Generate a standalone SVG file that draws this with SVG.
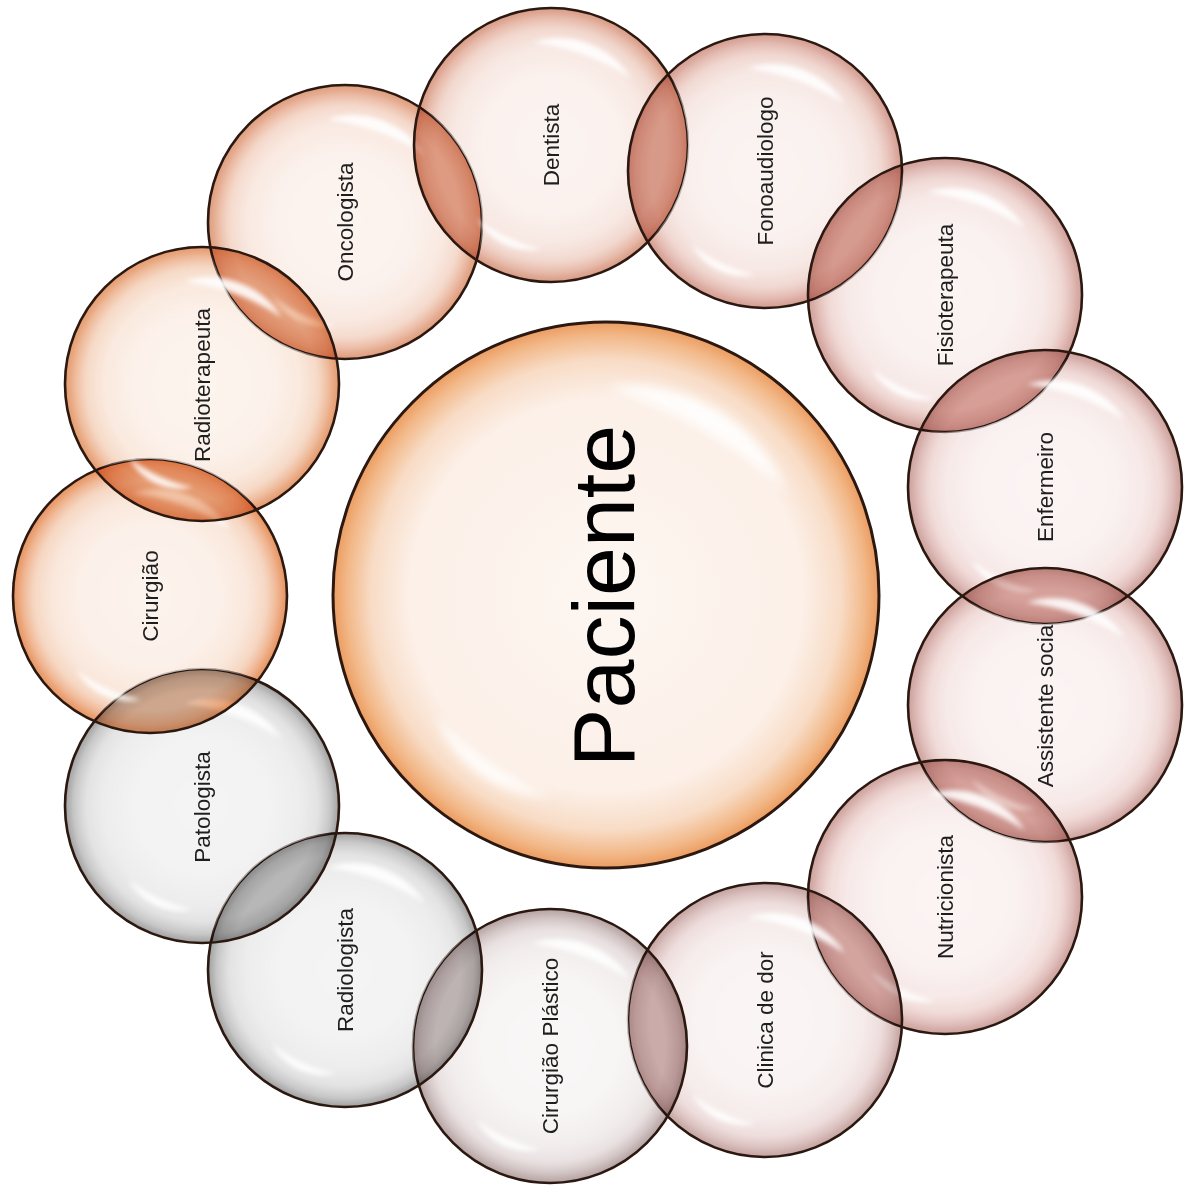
<svg xmlns="http://www.w3.org/2000/svg" xmlns:xlink="http://www.w3.org/1999/xlink" width="1184" height="1191" viewBox="0 0 1184 1191">
<style>
.lbl{font-family:"Liberation Sans",Arial,sans-serif;font-size:22.5px;fill:#1e1e1e;text-anchor:middle}
.big{font-size:88px;fill:#000}
.ring{fill:none;stroke:#2b1810;stroke-width:2.6}
.base{mix-blend-mode:multiply}
.hl{fill:#fff;opacity:.9;filter:url(#soft)}
</style>
<defs>
<filter id="soft" x="-40%" y="-40%" width="180%" height="180%"><feGaussianBlur stdDeviation="2.6"/></filter>
<path id="hlA" d="M -18.1,-102.4 A 84 84 0 0 1 79.7,-66.8 A 228 228 0 0 0 -18.1,-102.4 Z"/>
<path id="hlB" d="M -9.1,103.6 A 58.5 58.5 0 0 1 -73.5,73.5 A 159.5 159.5 0 0 0 -9.1,103.6 Z"/>
<radialGradient id="glowW">
<stop offset="0" stop-color="#fff" stop-opacity=".8"/>
<stop offset=".5" stop-color="#fff" stop-opacity=".76"/>
<stop offset=".72" stop-color="#fff" stop-opacity=".6"/>
<stop offset=".86" stop-color="#fff" stop-opacity=".3"/>
<stop offset=".95" stop-color="#fff" stop-opacity=".03"/>
<stop offset="1" stop-color="#fff" stop-opacity="0"/>
</radialGradient>
<radialGradient id="glowG">
<stop offset="0" stop-color="#fff" stop-opacity=".72"/>
<stop offset=".5" stop-color="#fff" stop-opacity=".68"/>
<stop offset=".72" stop-color="#fff" stop-opacity=".54"/>
<stop offset=".86" stop-color="#fff" stop-opacity=".26"/>
<stop offset=".95" stop-color="#fff" stop-opacity=".03"/>
<stop offset="1" stop-color="#fff" stop-opacity="0"/>
</radialGradient>
<radialGradient id="gDent"><stop offset="0" stop-color="#ecc6b8"/><stop offset=".84" stop-color="#ecc6b8"/><stop offset=".94" stop-color="#e4b2a0"/><stop offset="1" stop-color="#d89a84"/></radialGradient>
<radialGradient id="gFono"><stop offset="0" stop-color="#eac6bc"/><stop offset=".84" stop-color="#eac6bc"/><stop offset=".94" stop-color="#e0b2a8"/><stop offset="1" stop-color="#d49c90"/></radialGradient>
<radialGradient id="gFisio"><stop offset="0" stop-color="#eac8c2"/><stop offset=".84" stop-color="#eac8c2"/><stop offset=".94" stop-color="#deb4ae"/><stop offset="1" stop-color="#d0a09a"/></radialGradient>
<radialGradient id="gPink"><stop offset="0" stop-color="#eacac6"/><stop offset=".84" stop-color="#eacac6"/><stop offset=".94" stop-color="#dcb6b2"/><stop offset="1" stop-color="#cca09c"/></radialGradient>
<radialGradient id="gClin"><stop offset="0" stop-color="#e6cecc"/><stop offset=".84" stop-color="#e6cecc"/><stop offset=".94" stop-color="#d6bab8"/><stop offset="1" stop-color="#c4a4a2"/></radialGradient>
<radialGradient id="gCirPl"><stop offset="0" stop-color="#e0d4d4"/><stop offset=".84" stop-color="#e0d4d4"/><stop offset=".94" stop-color="#ccbcbc"/><stop offset="1" stop-color="#b4a2a2"/></radialGradient>
<radialGradient id="gGray"><stop offset="0" stop-color="#d8d8d8"/><stop offset=".84" stop-color="#d8d8d8"/><stop offset=".94" stop-color="#c2c2c2"/><stop offset="1" stop-color="#a0a0a0"/></radialGradient>
<radialGradient id="gCir"><stop offset="0" stop-color="#f2c4a6"/><stop offset=".84" stop-color="#f2c4a6"/><stop offset=".94" stop-color="#eeac84"/><stop offset="1" stop-color="#e6935e"/></radialGradient>
<radialGradient id="gRadt"><stop offset="0" stop-color="#f2c8ac"/><stop offset=".84" stop-color="#f2c8ac"/><stop offset=".94" stop-color="#ecb08c"/><stop offset="1" stop-color="#e49a6c"/></radialGradient>
<radialGradient id="gOnco"><stop offset="0" stop-color="#f0c8b4"/><stop offset=".84" stop-color="#f0c8b4"/><stop offset=".94" stop-color="#e8b096"/><stop offset="1" stop-color="#de9c7c"/></radialGradient>
<radialGradient id="gPac"><stop offset="0" stop-color="#fdf6f1"/><stop offset=".72" stop-color="#fcf0e8"/><stop offset=".86" stop-color="#f8dcc6"/><stop offset=".95" stop-color="#f2b888"/><stop offset="1" stop-color="#ec9c60"/></radialGradient>
<mask id="mDent" maskUnits="userSpaceOnUse" x="0" y="0" width="1184" height="1191"><rect width="1184" height="1191" fill="#fff"/><circle cx="345" cy="222" r="137"/><circle cx="765" cy="171" r="137"/></mask>
<mask id="mFono" maskUnits="userSpaceOnUse" x="0" y="0" width="1184" height="1191"><rect width="1184" height="1191" fill="#fff"/><circle cx="551" cy="145" r="137"/><circle cx="945" cy="295" r="137"/></mask>
<mask id="mFisio" maskUnits="userSpaceOnUse" x="0" y="0" width="1184" height="1191"><rect width="1184" height="1191" fill="#fff"/><circle cx="765" cy="171" r="137"/><circle cx="1045" cy="487" r="137"/></mask>
<mask id="mEnf" maskUnits="userSpaceOnUse" x="0" y="0" width="1184" height="1191"><rect width="1184" height="1191" fill="#fff"/><circle cx="945" cy="295" r="137"/><circle cx="1045" cy="705" r="137"/></mask>
<mask id="mAss" maskUnits="userSpaceOnUse" x="0" y="0" width="1184" height="1191"><rect width="1184" height="1191" fill="#fff"/><circle cx="1045" cy="487" r="137"/><circle cx="945" cy="897" r="137"/></mask>
<mask id="mNut" maskUnits="userSpaceOnUse" x="0" y="0" width="1184" height="1191"><rect width="1184" height="1191" fill="#fff"/><circle cx="1045" cy="705" r="137"/><circle cx="765" cy="1020" r="137"/></mask>
<mask id="mClin" maskUnits="userSpaceOnUse" x="0" y="0" width="1184" height="1191"><rect width="1184" height="1191" fill="#fff"/><circle cx="945" cy="897" r="137"/><circle cx="550" cy="1046" r="137"/></mask>
<mask id="mCirPl" maskUnits="userSpaceOnUse" x="0" y="0" width="1184" height="1191"><rect width="1184" height="1191" fill="#fff"/><circle cx="765" cy="1020" r="137"/><circle cx="345" cy="970" r="137"/></mask>
<mask id="mRadl" maskUnits="userSpaceOnUse" x="0" y="0" width="1184" height="1191"><rect width="1184" height="1191" fill="#fff"/><circle cx="550" cy="1046" r="137"/><circle cx="202" cy="806" r="137"/></mask>
<mask id="mPato" maskUnits="userSpaceOnUse" x="0" y="0" width="1184" height="1191"><rect width="1184" height="1191" fill="#fff"/><circle cx="345" cy="970" r="137"/><circle cx="150" cy="596" r="137"/></mask>
<mask id="mCir" maskUnits="userSpaceOnUse" x="0" y="0" width="1184" height="1191"><rect width="1184" height="1191" fill="#fff"/><circle cx="202" cy="806" r="137"/><circle cx="202" cy="384" r="137"/></mask>
<mask id="mRadt" maskUnits="userSpaceOnUse" x="0" y="0" width="1184" height="1191"><rect width="1184" height="1191" fill="#fff"/><circle cx="150" cy="596" r="137"/><circle cx="345" cy="222" r="137"/></mask>
<mask id="mOnco" maskUnits="userSpaceOnUse" x="0" y="0" width="1184" height="1191"><rect width="1184" height="1191" fill="#fff"/><circle cx="202" cy="384" r="137"/><circle cx="551" cy="145" r="137"/></mask>
</defs>
<rect width="1184" height="1191" fill="#fff"/>

<g id="paciente">
<circle cx="606" cy="595" r="273" fill="url(#gPac)"/>
<use href="#hlA" class="hl" transform="translate(606,595) rotate(10) scale(2)"/>
<use href="#hlB" class="hl" transform="translate(606,595) rotate(10) scale(2)"/>
<circle class="ring" cx="606" cy="595" r="273" style="stroke-width:3"/>
<text class="lbl big" transform="translate(634,596) rotate(-90)">Paciente</text>
</g>

<g id="oncologista">
<circle class="base" cx="345" cy="222" r="137" fill="url(#gOnco)"/>
<circle cx="345" cy="222" r="137" fill="url(#glowW)" mask="url(#mOnco)"/>
<use href="#hlA" class="hl" transform="translate(345,222)"/>
<use href="#hlB" class="hl" transform="translate(345,222)"/>
<circle class="ring" cx="345" cy="222" r="137"/>
<text class="lbl" transform="translate(353,222) rotate(-90)">Oncologista</text>
</g>

<g id="dentista">
<circle class="base" cx="551" cy="145" r="137" fill="url(#gDent)"/>
<circle cx="551" cy="145" r="137" fill="url(#glowW)" mask="url(#mDent)"/>
<use href="#hlA" class="hl" transform="translate(551,145)"/>
<use href="#hlB" class="hl" transform="translate(551,145)"/>
<circle class="ring" cx="551" cy="145" r="137"/>
<text class="lbl" transform="translate(559,145) rotate(-90)">Dentista</text>
</g>

<g id="fonoaudiologo">
<circle class="base" cx="765" cy="171" r="137" fill="url(#gFono)"/>
<circle cx="765" cy="171" r="137" fill="url(#glowW)" mask="url(#mFono)"/>
<use href="#hlA" class="hl" transform="translate(765,171)"/>
<use href="#hlB" class="hl" transform="translate(765,171)"/>
<circle class="ring" cx="765" cy="171" r="137"/>
<text class="lbl" transform="translate(773,171) rotate(-90)">Fonoaudiologo</text>
</g>

<g id="fisioterapeuta">
<circle class="base" cx="945" cy="295" r="137" fill="url(#gFisio)"/>
<circle cx="945" cy="295" r="137" fill="url(#glowW)" mask="url(#mFisio)"/>
<use href="#hlA" class="hl" transform="translate(945,295)"/>
<use href="#hlB" class="hl" transform="translate(945,295)"/>
<circle class="ring" cx="945" cy="295" r="137"/>
<text class="lbl" transform="translate(953,295) rotate(-90)">Fisioterapeuta</text>
</g>

<g id="enfermeiro">
<circle class="base" cx="1045" cy="487" r="137" fill="url(#gPink)"/>
<circle cx="1045" cy="487" r="137" fill="url(#glowW)" mask="url(#mEnf)"/>
<use href="#hlA" class="hl" transform="translate(1045,487)"/>
<use href="#hlB" class="hl" transform="translate(1045,487)"/>
<circle class="ring" cx="1045" cy="487" r="137"/>
<text class="lbl" transform="translate(1053,487) rotate(-90)">Enfermeiro</text>
</g>

<g id="assistente-social">
<circle class="base" cx="1045" cy="705" r="137" fill="url(#gPink)"/>
<circle cx="1045" cy="705" r="137" fill="url(#glowW)" mask="url(#mAss)"/>
<use href="#hlA" class="hl" transform="translate(1045,705)"/>
<use href="#hlB" class="hl" transform="translate(1045,705)"/>
<circle class="ring" cx="1045" cy="705" r="137"/>
<text class="lbl" transform="translate(1053,706) rotate(-90)">Assistente socia</text>
</g>

<g id="nutricionista">
<circle class="base" cx="945" cy="897" r="137" fill="url(#gPink)"/>
<circle cx="945" cy="897" r="137" fill="url(#glowW)" mask="url(#mNut)"/>
<use href="#hlA" class="hl" transform="translate(945,897)"/>
<use href="#hlB" class="hl" transform="translate(945,897)"/>
<circle class="ring" cx="945" cy="897" r="137"/>
<text class="lbl" transform="translate(953,897) rotate(-90)">Nutricionista</text>
</g>

<g id="clinica-de-dor">
<circle class="base" cx="765" cy="1020" r="137" fill="url(#gClin)"/>
<circle cx="765" cy="1020" r="137" fill="url(#glowW)" mask="url(#mClin)"/>
<use href="#hlA" class="hl" transform="translate(765,1020)"/>
<use href="#hlB" class="hl" transform="translate(765,1020)"/>
<circle class="ring" cx="765" cy="1020" r="137"/>
<text class="lbl" transform="translate(773,1020) rotate(-90)">Clinica de dor</text>
</g>

<g id="cirurgiao-plastico">
<circle class="base" cx="550" cy="1046" r="137" fill="url(#gCirPl)"/>
<circle cx="550" cy="1046" r="137" fill="url(#glowW)" mask="url(#mCirPl)"/>
<use href="#hlA" class="hl" transform="translate(550,1046)"/>
<use href="#hlB" class="hl" transform="translate(550,1046)"/>
<circle class="ring" cx="550" cy="1046" r="137"/>
<text class="lbl" transform="translate(558,1046) rotate(-90)">Cirurgião Plástico</text>
</g>

<g id="radiologista">
<circle class="base" cx="345" cy="970" r="137" fill="url(#gGray)"/>
<circle cx="345" cy="970" r="137" fill="url(#glowG)" mask="url(#mRadl)"/>
<use href="#hlA" class="hl" transform="translate(345,970)"/>
<use href="#hlB" class="hl" transform="translate(345,970)"/>
<circle class="ring" cx="345" cy="970" r="137"/>
<text class="lbl" transform="translate(353,970) rotate(-90)">Radiologista</text>
</g>

<g id="patologista">
<circle class="base" cx="202" cy="806" r="137" fill="url(#gGray)"/>
<circle cx="202" cy="806" r="137" fill="url(#glowG)" mask="url(#mPato)"/>
<use href="#hlA" class="hl" transform="translate(202,806)"/>
<use href="#hlB" class="hl" transform="translate(202,806)"/>
<circle class="ring" cx="202" cy="806" r="137"/>
<text class="lbl" transform="translate(210,807) rotate(-90)">Patologista</text>
</g>

<g id="cirurgiao">
<circle class="base" cx="150" cy="596" r="137" fill="url(#gCir)"/>
<circle cx="150" cy="596" r="137" fill="url(#glowW)" mask="url(#mCir)"/>
<use href="#hlA" class="hl" transform="translate(150,596)"/>
<use href="#hlB" class="hl" transform="translate(150,596)"/>
<circle class="ring" cx="150" cy="596" r="137"/>
<text class="lbl" transform="translate(158,596) rotate(-90)">Cirurgião</text>
</g>

<g id="radioterapeuta">
<circle class="base" cx="202" cy="384" r="137" fill="url(#gRadt)"/>
<circle cx="202" cy="384" r="137" fill="url(#glowW)" mask="url(#mRadt)"/>
<use href="#hlA" class="hl" transform="translate(202,384)"/>
<use href="#hlB" class="hl" transform="translate(202,384)"/>
<circle class="ring" cx="202" cy="384" r="137"/>
<text class="lbl" transform="translate(210,385) rotate(-90)">Radioterapeuta</text>
</g>
</svg>
